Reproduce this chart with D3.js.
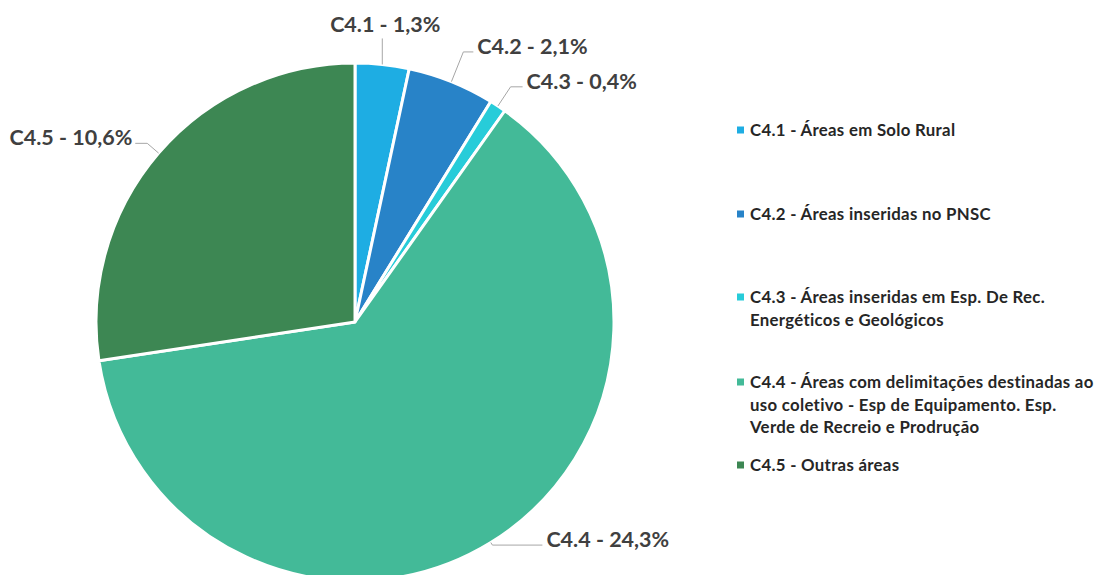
<!DOCTYPE html>
<html>
<head>
<meta charset="utf-8">
<script src="https://cdn.jsdelivr.net/npm/d3@7"></script>
<style>
  body { margin: 0; background: #fff; }
  .slice-label { font-family: Lato, "Open Sans", sans-serif; font-weight: 700; font-size: 21.5px; fill: #404040; }
  .legend-text { font-family: Lato, "Open Sans", sans-serif; font-weight: 700; font-size: 16.8px; letter-spacing: 0.3px; fill: #262626; }
</style>
</head>
<body>
<div id="chart"></div>
<script>
// data
var categories = ["C4.1", "C4.2", "C4.3", "C4.4", "C4.5"];
var values = [1.3, 2.1, 0.4, 24.3, 10.6];
var legendLines = [
  ["C4.1 - Áreas em Solo Rural"],
  ["C4.2 - Áreas inseridas no PNSC"],
  ["C4.3 - Áreas inseridas em Esp. De Rec.", "Energéticos e Geológicos"],
  ["C4.4 - Áreas com delimitações destinadas ao", "uso coletivo - Esp de Equipamento. Esp.", "Verde de Recreio e Prodrução"],
  ["C4.5 - Outras áreas"]
];
var colors = ["#1EADE3", "#2883C8", "#27CCD9", "#43BA98", "#3D8753"];

// label leader layout (elbow radius offset, horizontal run); null = straight up
var elbowOffset = [null, 32, 23, 3, 15];
var runLength = [0, 10, 12, 50, 12];

var width = 1097, height = 575;
var cx = 355, cy = 322, r = 259;

var svg = d3.select("#chart").append("svg")
  .attr("width", width).attr("height", height);

var pie = d3.pie().sort(null).value(function(d){ return d; });
var arcs = pie(values);
var arc = d3.arc().innerRadius(0).outerRadius(r);

var g = svg.append("g").attr("transform", "translate(" + cx + "," + cy + ")");

g.selectAll("path.slice").data(arcs).enter().append("path")
  .attr("class", "slice")
  .attr("d", arc)
  .attr("fill", function(d, i){ return colors[i]; })
  .attr("stroke", "#fff").attr("stroke-width", 3).attr("stroke-linejoin", "round");

var fmt = function(v){ return d3.format(".1f")(v).replace(".", ",") + "%"; };

arcs.forEach(function(d, i){
  var a = (d.startAngle + d.endAngle) / 2;
  var sx = Math.sin(a) * r, sy = -Math.cos(a) * r;
  var txt = categories[i] + " - " + fmt(values[i]);
  var pts, tx, ty, anchor;
  if (elbowOffset[i] === null) {
    var topY = sy - 26;
    pts = [[sx, sy], [sx, topY]];
    tx = sx + 3; ty = topY - 6; anchor = "middle";
  } else {
    var er = r + elbowOffset[i];
    var ex = Math.sin(a) * er, ey = -Math.cos(a) * er;
    var right = Math.sin(a) >= 0;
    var hx = ex + (right ? runLength[i] : -runLength[i]);
    pts = [[sx, sy], [ex, ey], [hx, ey]];
    tx = hx + (right ? 4 : -3); ty = ey + 2; anchor = right ? "start" : "end";
  }
  g.append("path")
    .attr("d", d3.line()(pts))
    .attr("fill", "none").attr("stroke", "#a6a6a6").attr("stroke-width", 1);
  g.append("text").attr("class", "slice-label")
    .attr("x", tx).attr("y", ty)
    .attr("text-anchor", anchor)
    .text(txt);
});

// legend
var legendY = [130, 214, 297, 382, 465];
var lineH = 22.5;
var legend = svg.append("g");
legendLines.forEach(function(lines, i){
  legend.append("rect")
    .attr("x", 737).attr("y", legendY[i] - 3.5)
    .attr("width", 7).attr("height", 7)
    .attr("fill", colors[i]);
  var t = legend.append("text").attr("class", "legend-text")
    .attr("x", 750).attr("y", legendY[i] + 6);
  lines.forEach(function(line, j){
    t.append("tspan").attr("x", 750).attr("dy", j === 0 ? 0 : lineH).text(line);
  });
});
</script>
</body>
</html>
